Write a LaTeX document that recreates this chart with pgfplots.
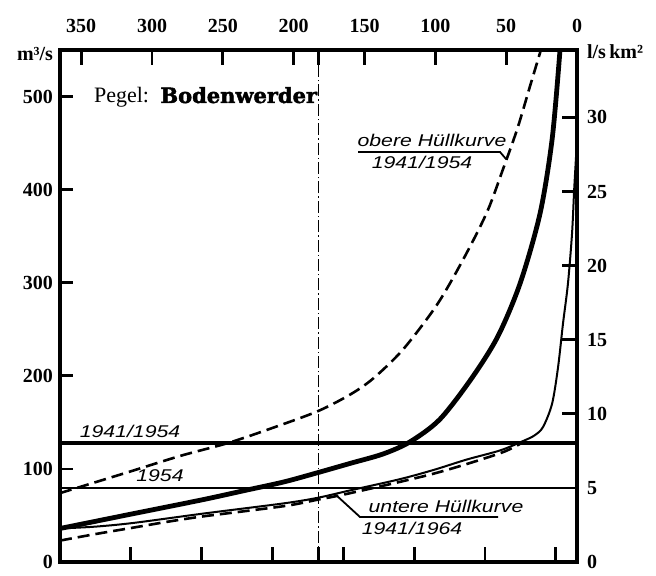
\documentclass[border=0pt]{standalone}
\usepackage{pgfplots}
\pgfplotsset{compat=1.18}
\usepackage{fontspec}
\setmainfont{Liberation Serif}
\newfontfamily\hand{Liberation Sans}
\newfontfamily\heavy{DejaVu Serif}[BoldFeatures={FakeBold=2}]

\begin{document}
\begin{tikzpicture}
\tikzset{hw/.style={font=\hand\itshape\fontsize{8.5}{10}\selectfont, xscale=1.25}}
\pgfplotsset{
  chartbase/.style={
    scale only axis, width=258.5pt, height=256pt,
    xmin=0, xmax=365, x dir=reverse,
    major tick length=0pt,
    tick label style={font=\bfseries\fontsize{10}{12}\selectfont},
    /pgf/number format/assume math mode=true,
    clip=false,
  },
}
% main axis: discharge in m3/s, days on top
\begin{axis}[chartbase,
  ymin=0, ymax=550,
  xtick={0,50,...,350}, xtick pos=right, xticklabel pos=right,
  xticklabel shift=5pt,
  ytick={0,100,...,500}, ytick pos=left,
]
  % mean discharge lines
  \addplot[black, line width=1.7pt] coordinates {(0,128) (365,128)};
  \addplot[black, line width=1pt] coordinates {(0,80) (365,80)};
  % half-year line
  \addplot[black, line width=0.7pt, dash pattern=on 6pt off 1.5pt on 0.7pt off 1.5pt]
    coordinates {(182.5,0) (182.5,550)};
  % upper envelope 1941/1954
  \addplot[black, line width=1.3pt, dash pattern=on 6pt off 3pt, smooth] coordinates {
    (365,74) (318,96) (280,114) (246,128) (215,144) (183,162) (160,180)
    (144,197) (123,228) (99,276) (80,326) (63.5,376) (52,423) (42,466)
    (33,512) (25.5,550)};
  % 1954
  \addplot[black, line width=2.4pt, smooth] coordinates {
    (365,36) (313,52) (264,67) (234,77) (207,86) (183,96) (160,106)
    (137,116) (118,129) (97,153) (75,196) (56,242) (40,300) (26,375)
    (17.5,455) (12,550)};
  % thin curve
  \addplot[black, line width=1pt, smooth] coordinates {
    (365,36) (340,38) (313,42) (264,52) (207,63) (183,69) (160,77)
    (125,89) (101,99) (78,110) (54,120) (38,130) (30,136) (24,145) (17.6,170)
    (13.4,209) (9.9,256) (6.4,299) (3.5,353) (2,400) (0.5,440)};
  % lower envelope 1941/1964
  \addplot[black, line width=1.3pt, dash pattern=on 6pt off 3pt, smooth] coordinates {
    (365,23) (340,30) (313,37) (290,43) (264,49) (207,60) (183,67)
    (160,74) (101,95) (54,117) (38,129)};
\end{axis}
% secondary axis: specific discharge l/s km2
\begin{axis}[chartbase,
  ymin=0, ymax=34.55,
  axis x line*=bottom, axis y line*=right,
  xtick=\empty,
  ytick={0,5,...,30}, yticklabel shift=1.5pt,
]
\end{axis}
% frame, ticks and annotations, placed in reference pixel units
\begin{scope}[x=0.5pt, y=-0.5pt, shift={(-30pt,281pt)}]
  \draw[line width=2pt] (60,50) rectangle (577,562);
  \foreach \tx in {506.2,435.4,364.5,293.7,222.8,152.0,81.2,318.5}
    \draw[line width=1.4pt] (\tx,50) -- (\tx,65);
  \foreach \tx in {555.8,484.9,414.1,343.3,272.5,201.6,130.8,318.5}
    \draw[line width=1.4pt] (\tx,562) -- (\tx,547);
  \foreach \ty in {468.9,375.8,282.7,189.6,96.5}
    \draw[line width=1.4pt] (60,\ty) -- (73,\ty);
  \foreach \ty in {487.9,413.8,339.7,265.6,191.5,117.4}
    \draw[line width=1.4pt] (577,\ty) -- (562,\ty);
  \node[font=\bfseries\fontsize{10}{12}\selectfont] at (35,54) {m³/s};
  \node[font=\bfseries\fontsize{10}{12}\selectfont, anchor=west] at (580,52) {l/s\,km²};
  \node[anchor=base west, font=\fontsize{11}{13}\selectfont] at (87,103) {Pegel:};
  \node[anchor=base west, font=\heavy\bfseries\fontsize{10.5}{12}\selectfont, inner sep=0pt]
    at (160,103) {Bodenwerder};
  \node[hw] at (130,431) {1941/1954};
  \node[hw] at (160,476) {1954};
  \node[hw] at (432,140) {obere Hüllkurve};
  \node[hw] at (422,162) {1941/1954};
  \draw[line width=0.9pt] (358,152) -- (500,152) -- (506,159);
  \node[hw] at (446,506) {untere Hüllkurve};
  \node[hw] at (412,528) {1941/1964};
  \draw[line width=0.9pt] (336,495) -- (360,517) -- (498,517);
\end{scope}
\path[use as bounding box] (-30pt,-6.5pt) rectangle (298pt,281pt);
\end{tikzpicture}
\end{document}
